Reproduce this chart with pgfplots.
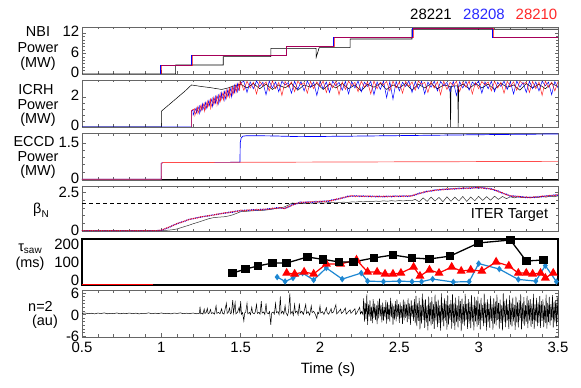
\documentclass[border=0pt]{standalone}
\usepackage{fontspec}
\setmainfont{Liberation Sans}
\usepackage{pgfplots}
\pgfplotsset{compat=1.18}
\usepackage{pgfplotstable}
\definecolor{tblue}{RGB}{30,135,210}
\definecolor{sred}{RGB}{255,0,0}
\definecolor{sblue}{RGB}{0,0,255}
\definecolor{lred}{RGB}{255,40,40}
\definecolor{lblue}{RGB}{40,40,255}
\newcommand\fs{\fontsize{14.5}{16}\selectfont}
\newcommand\fst{\fontsize{15}{16}\selectfont}
\pgfplotsset{
  panel/.style={
    scale only axis, width=476bp, xmin=0.5, xmax=3.5, anchor=south west,
    xtick={0.5,1,1.5,2,2.5,3,3.5}, minor x tick num=4, xticklabels={},
    tick align=inside, tick pos=both,
    major tick length=3.5bp, minor tick length=2.5bp,
    axis line style={draw=black!60, line width=0.7bp},
    every tick/.style={draw=black!60, line width=0.5bp},
    tick label style={font=\fst},
    yticklabel style={inner xsep=2.5bp, inner ysep=0bp},
  }
}

\pgfplotstableread{
t r b
1.50 3.02 2.95
1.52 2.45 3.04
1.54 3.05 2.30
1.56 2.60 3.00
1.58 2.98 2.55
1.60 2.20 3.06
1.62 3.04 2.70
1.64 2.75 2.98
1.66 3.00 2.15
1.68 2.40 3.05
1.70 3.06 2.60
1.72 2.55 3.00
1.74 2.97 2.35
1.76 2.10 3.04
1.78 3.03 2.80
1.80 2.65 2.96
1.82 3.00 2.25
1.84 2.35 3.05
1.86 3.05 2.50
1.88 2.80 3.02
1.90 2.96 2.40
1.92 2.25 3.06
1.94 3.04 2.65
1.96 2.55 2.99
1.98 3.01 2.10
2.00 2.70 3.03
2.02 3.06 2.55
2.04 2.30 3.00
2.06 2.98 2.30
2.08 2.60 3.05
2.10 3.03 2.75
2.12 2.15 2.97
2.14 3.00 2.45
2.16 2.50 3.04
2.18 3.05 2.20
2.20 2.75 3.01
2.22 2.97 2.60
2.24 2.35 3.06
2.26 3.04 2.35
2.28 2.65 2.98
2.30 3.00 2.70
2.32 2.20 3.03
2.34 3.06 2.15
2.36 2.55 3.00
2.38 2.98 2.50
2.40 2.80 3.05
2.42 3.02 1.95
2.44 2.40 3.02
2.46 3.05 1.85
2.48 2.60 3.04
2.50 2.99 2.40
2.52 2.25 2.98
2.54 3.04 2.70
2.56 2.70 3.06
2.58 3.00 2.30
2.60 2.45 3.01
2.62 3.06 2.55
2.64 2.85 3.04
2.66 2.97 2.20
2.68 2.30 2.99
2.70 3.03 2.65
2.72 2.60 3.05
2.74 3.01 2.40
2.76 2.15 3.02
2.78 3.05 2.75
2.80 2.50 2.97
2.82 2.98 2.35
2.84 2.75 3.05
2.86 3.04 2.10
2.88 2.35 3.01
2.90 3.00 2.60
2.92 2.65 3.04
2.94 3.06 2.45
2.96 2.20 2.99
2.98 2.97 2.80
3.00 2.55 3.06
3.02 3.03 2.25
3.04 2.80 3.00
3.06 3.00 2.55
3.08 2.40 3.04
3.10 3.05 2.35
3.12 2.60 2.98
3.14 2.98 2.70
3.16 2.25 3.05
3.18 3.04 2.50
3.20 2.70 3.01
3.22 3.01 2.20
3.24 2.45 3.06
3.26 3.06 2.65
3.28 2.85 2.97
3.30 2.99 2.30
3.32 2.30 3.04
3.34 3.03 2.55
3.36 2.55 3.00
3.38 3.00 2.40
3.40 2.10 3.05
3.42 3.05 2.75
3.44 2.65 2.99
3.46 2.98 2.15
3.48 2.40 3.03
3.50 3.02 2.60
}\icrh

\pgfplotstableread{
t r b k
0.500 0.03 0.03 0.03
0.975 0.03 0.03 0.03
1.000 0.06 0.05 0.03
1.025 0.16 0.14 0.04
1.050 0.27 0.24 0.06
1.075 0.36 0.38 0.09
1.100 0.50 0.47 0.14
1.125 0.55 0.58 0.22
1.150 0.67 0.64 0.30
1.175 0.74 0.77 0.38
1.200 0.82 0.79 0.47
1.225 0.84 0.87 0.55
1.250 0.93 0.90 0.63
1.275 0.94 0.97 0.72
1.300 1.01 0.98 0.80
1.325 1.02 1.05 0.86
1.350 1.10 1.07 0.89
1.375 1.11 1.14 0.91
1.400 1.19 1.15 0.93
1.425 1.18 1.22 0.98
1.450 1.27 1.22 1.05
1.475 1.26 1.31 1.15
1.500 1.35 1.30 1.25
1.525 1.31 1.36 1.27
1.550 1.38 1.33 1.29
1.575 1.34 1.39 1.31
1.600 1.40 1.35 1.33
1.625 1.36 1.41 1.34
1.650 1.43 1.38 1.35
1.675 1.40 1.45 1.38
1.700 1.48 1.43 1.42
1.725 1.46 1.51 1.47
1.750 1.53 1.48 1.51
1.775 1.44 1.47 1.56
1.800 1.58 1.54 1.68
1.825 1.66 1.71 1.82
1.850 1.80 1.75 1.79
1.875 1.83 1.88 1.78
1.900 1.89 1.84 1.79
1.925 1.85 1.90 1.81
1.950 1.91 1.86 1.80
1.975 1.87 1.92 1.82
2.000 1.94 1.89 1.83
2.025 1.90 1.95 1.81
2.050 1.97 1.92 1.84
2.075 1.96 2.02 1.85
2.100 2.08 2.03 1.83
2.125 2.08 2.13 1.86
2.150 2.20 2.15 1.87
2.175 2.21 2.26 1.85
2.200 2.30 2.25 1.89
2.225 2.24 2.29 1.88
2.250 2.29 2.24 1.91
2.275 2.23 2.28 1.89
2.300 2.28 2.23 1.93
2.325 2.22 2.27 1.90
2.350 2.27 2.22 1.94
2.375 2.21 2.26 1.92
2.400 2.26 2.21 1.96
2.425 2.22 2.27 1.93
2.450 2.27 2.22 1.97
2.475 2.23 2.28 1.94
2.500 2.28 2.23 1.98
2.525 2.24 2.29 1.95
2.550 2.29 2.24 1.99
2.575 2.25 2.30 1.96
2.600 2.38 2.33 2.05
2.625 2.41 2.46 1.90
2.650 2.53 2.48 2.15
2.675 2.54 2.59 1.92
2.700 2.63 2.58 2.20
2.725 2.62 2.67 1.95
2.750 2.70 2.65 2.18
2.775 2.67 2.72 1.90
2.800 2.74 2.69 2.22
2.825 2.70 2.75 1.93
2.850 2.77 2.72 2.20
2.875 2.73 2.78 1.95
2.900 2.79 2.74 2.24
2.925 2.75 2.80 1.92
2.950 2.81 2.76 2.21
2.975 2.78 2.83 1.96
3.000 2.84 2.79 2.25
3.025 2.77 2.82 1.98
3.050 2.79 2.74 2.23
3.075 2.71 2.76 2.00
3.100 2.69 2.64 2.26
3.125 2.54 2.59 2.05
3.150 2.49 2.44 2.24
3.175 2.34 2.39 2.10
3.200 2.30 2.25 2.22
3.225 2.23 2.28 2.15
3.250 2.26 2.21 2.22
3.275 2.18 2.23 2.17
3.300 2.21 2.16 2.20
3.325 2.15 2.20 2.16
3.350 2.22 2.17 2.21
3.375 2.19 2.24 2.18
3.400 2.27 2.22 2.23
3.425 2.24 2.29 2.20
3.450 2.32 2.27 2.26
3.475 2.29 2.34 2.22
3.500 2.37 2.32 2.28
}\betan

\begin{document}
\begin{tikzpicture}
\useasboundingbox (0,0) rectangle (581bp,388bp);

% ---------------- NBI ----------------
\begin{axis}[panel, at={(82bp,314bp)}, height=47bp, ymin=0, ymax=13.74,
  ytick={0,6,12}, yticklabels={0,6,12}, minor y tick num=5,
  yticklabel style={yshift=1.5bp}]
\addplot[black, line width=0.6bp] coordinates {(0.5,0)(1.09,0)(1.09,2.63)(1.39,2.63)(1.39,5.06)(1.69,5.06)(1.69,7.51)(1.975,7.51)(1.976,4.9)(1.995,7.69)(2.19,7.69)(2.19,10.23)(2.58,10.23)(2.58,13.07)(3.5,13.07)};
\addplot[sblue, line width=0.7bp] coordinates {(0.5,0)(0.995,0)(0.995,2.43)(1.188,2.43)(1.188,5.35)(1.785,5.35)(1.785,7.98)(2.085,7.98)(2.085,10.73)(2.585,10.73)(2.585,13.36)(3.085,13.36)(3.085,10.73)(3.5,10.73)};
\addplot[sred, line width=0.7bp, opacity=0.65] coordinates {(0.5,0)(1.0,0)(1.0,2.43)(1.195,2.43)(1.195,5.35)(1.79,5.35)(1.79,7.98)(2.09,7.98)(2.09,10.73)(2.59,10.73)(2.59,13.36)(3.09,13.36)(3.09,10.73)(3.5,10.73)};
\end{axis}

% ---------------- ICRH ----------------
\begin{axis}[panel, at={(82bp,261bp)}, height=47bp, ymin=0, ymax=3.13,
  ytick={0,2}, yticklabels={0,2}, minor y tick num=4,
  yticklabel style={yshift=1.5bp}]
\addplot[black, line width=0.5bp] coordinates {(0.5,0)(1.0,0)(1.0,1.05)(1.05,1.5)(1.10,1.95)(1.15,2.4)(1.19,2.8)(1.25,2.7)(1.31,2.62)(1.38,2.5)(1.42,2.6)(1.46,2.75)(1.50,2.85)(1.54,2.6)(1.58,2.9)(1.62,2.55)(1.66,2.85)(1.70,2.5)(1.74,2.8)(1.78,2.6)(1.82,2.9)(1.86,2.45)(1.90,2.8)(1.94,2.65)(1.98,2.9)(2.02,2.5)(2.06,2.85)(2.10,2.6)(2.14,2.9)(2.18,2.55)(2.22,2.8)(2.26,2.4)(2.30,2.85)(2.34,2.65)(2.38,2.9)(2.42,2.5)(2.46,2.8)(2.50,2.6)(2.54,2.9)(2.58,2.45)(2.62,2.85)(2.66,2.6)(2.70,2.9)(2.74,2.55)(2.78,2.8)(2.82,2.7)(2.823,0)(2.826,2.7)(2.868,2.75)(2.871,0)(2.874,2.7)(2.90,2.85)(2.94,2.55)(2.98,2.9)(3.02,2.6)(3.06,2.85)(3.10,2.5)(3.14,2.9)(3.18,2.65)(3.22,2.8)(3.26,2.45)(3.30,2.9)(3.34,2.6)(3.38,2.85)(3.42,2.55)(3.46,2.9)(3.50,2.7)};
\addplot[sblue, line width=0.5bp] coordinates {(0.5,0)(1.19,0)(1.19,1.05)(1.20,1.15)(1.201,0.8)(1.22,1.28)(1.221,0.95)(1.24,1.4)(1.241,0.9)(1.26,1.53)(1.261,1.15)(1.28,1.65)(1.281,1.2)(1.30,1.77)(1.301,1.4)(1.32,1.9)(1.321,1.35)(1.34,2.02)(1.341,1.6)(1.36,2.14)(1.361,1.55)(1.38,2.27)(1.381,1.85)(1.40,2.39)(1.401,1.8)(1.42,2.51)(1.421,2.05)(1.44,2.63)(1.441,2.0)(1.46,2.76)(1.461,2.3)(1.48,2.88)(1.481,2.35)(1.50,2.95)};
\addplot[sblue, line width=0.5bp] table[x=t, y=b] {\icrh};
\addplot[sred, line width=0.5bp, opacity=0.85] coordinates {(1.19,0)(1.19,1.1)(1.21,1.22)(1.211,0.75)(1.23,1.35)(1.231,0.9)(1.25,1.47)(1.251,1.1)(1.27,1.59)(1.271,1.05)(1.29,1.71)(1.291,1.3)(1.31,1.84)(1.311,1.25)(1.33,1.96)(1.331,1.5)(1.35,2.08)(1.351,1.45)(1.37,2.2)(1.371,1.7)(1.39,2.33)(1.391,1.8)(1.41,2.45)(1.411,1.9)(1.43,2.57)(1.431,2.0)(1.45,2.69)(1.451,2.15)(1.47,2.82)(1.471,2.3)(1.49,2.94)(1.491,2.4)(1.50,3.02)};
\addplot[sred, line width=0.5bp, opacity=0.85] table[x=t, y=r] {\icrh};
\end{axis}

% ---------------- ECCD ----------------
\begin{axis}[panel, at={(82bp,208bp)}, height=46.5bp, ymin=-0.03, ymax=1.89,
  ytick={0,1.5}, yticklabels={0,1.5}, minor y tick num=4,
  yticklabel style={yshift=1bp}]
\addplot[black, line width=0.5bp] coordinates {(0.5,0)(3.5,0)};
\addplot[sblue, line width=0.7bp] coordinates {(0.5,0)(1.0,0)(1.0,0.66)(1.01,0.69)(1.496,0.70)(1.497,1.50)(1.503,1.70)(1.515,1.78)(1.54,1.80)(1.7,1.79)(1.87,1.76)(2.2,1.78)(2.6,1.81)(3.0,1.84)(3.3,1.86)(3.5,1.87)};
\addplot[sred!70, line width=0.7bp] coordinates {(0.5,0.0)(1.0,0.0)(1.0,0.66)(1.01,0.69)(1.5,0.70)(2.0,0.71)(2.5,0.72)(3.0,0.73)(3.5,0.74)};
\end{axis}

% ---------------- beta_N ----------------
\begin{axis}[panel, at={(82bp,156.5bp)}, height=45.5bp, ymin=-0.03, ymax=2.92,
  ytick={0,2.5}, yticklabels={0,2.5}, minor y tick num=4,
  yticklabel style={yshift=0.5bp}]
\addplot[black, line width=0.8bp, dash pattern=on 4bp off 3bp] coordinates {(0.5,1.8)(3.5,1.8)};
\addplot[black!80, line width=0.5bp] table[x=t, y=k] {\betan};
\addplot[sblue, line width=1.1bp, dash pattern=on 1bp off 0.8bp] table[x=t, y=b] {\betan};
\addplot[sred, line width=1.1bp, dash pattern=on 1bp off 0.8bp, opacity=0.85] table[x=t, y=r] {\betan};
\end{axis}

% ---------------- tau_saw ----------------
\begin{axis}[panel, at={(82bp,103bp)}, height=46bp, ymin=-16.4, ymax=235.6,
  ytick={0,100,200}, yticklabels={0,100,200}, major tick length=0pt, minor x tick num=0,
  axis line style={draw=black, line width=1.1bp},
  yticklabel style={yshift=1.5bp}]
\addplot[sred, line width=0.8bp] coordinates {(0.5,-12.5)(0.95,-12.5)};
\addplot[tblue, line width=1.2bp, mark=diamond*, mark size=2.3bp] coordinates {(1.73,27)(1.78,3)(1.83,22)(1.89,49)(1.96,11)(2.04,77)(2.14,16)(2.26,49)(2.30,5)(2.40,2)(2.50,5)(2.58,2)(2.64,2)(2.71,16)(2.84,0)(2.94,2)(3.00,101)(3.13,71)(3.25,14)(3.36,5)(3.42,90)(3.49,2)};
\addplot[sred, line width=1.2bp, mark=triangle*, mark size=4bp] coordinates {(1.79,49)(1.84,44)(1.90,55)(1.96,44)(2.04,99)(2.13,99)(2.23,121)(2.30,55)(2.36,55)(2.41,44)(2.46,44)(2.51,49)(2.59,82)(2.63,33)(2.69,66)(2.75,49)(2.83,82)(2.89,60)(2.95,66)(3.02,60)(3.11,110)(3.19,88)(3.25,49)(3.30,49)(3.34,44)(3.39,49)(3.42,22)(3.47,49)};
\addplot[black, line width=1.3bp, mark=square*, mark size=3.6bp] coordinates {(1.45,49)(1.53,71)(1.61,88)(1.70,104)(1.79,104)(1.92,137)(2.02,124)(2.12,110)(2.21,110)(2.34,132)(2.46,148)(2.58,132)(2.69,126)(2.82,142)(3.00,214)(3.20,230)(3.30,115)(3.41,121)};
\end{axis}

% ---------------- n=2 ----------------
\begin{axis}[panel, at={(82bp,51bp)}, height=46.5bp, ymin=-6.25, ymax=6.67,
  ytick={-6,0,6}, yticklabels={-6,0,6}, minor y tick num=5,
  yticklabel style={yshift=-0.5bp},
  xticklabels={0.5,1,1.5,2,2.5,3,3.5}, xticklabel style={inner ysep=1bp, yshift=-4bp}]
\addplot[black, line width=0.5bp] coordinates {
(0.50,0.30)(0.52,0.42)(0.54,0.22)(0.56,0.35)(0.58,0.18)(0.60,0.40)(0.62,0.28)(0.64,0.45)(0.66,0.20)(0.68,0.33)(0.70,0.25)(0.72,0.44)(0.74,0.19)(0.76,0.36)(0.78,0.27)(0.80,0.41)(0.82,0.23)(0.84,0.38)(0.86,0.17)(0.88,0.34)(0.90,0.29)(0.92,0.46)(0.94,0.21)(0.96,0.37)(0.98,0.26)(1.00,0.43)(1.02,0.24)(1.04,0.35)(1.06,0.18)(1.08,0.40)(1.10,0.30)(1.12,0.45)(1.14,0.22)(1.16,0.36)(1.18,0.27)(1.20,0.42)(1.22,0.20)(1.24,0.33)
(1.244,2.2)(1.248,0.2)(1.255,0.4)(1.262,0.1)(1.270,1.5)(1.275,0.3)(1.282,0.5)(1.290,1.7)(1.295,0.2)(1.302,0.4)(1.310,1.4)(1.315,0.3)(1.325,0.5)(1.335,0.1)(1.345,2.4)(1.350,0.3)(1.360,0.6)(1.370,0.2)(1.380,1.6)(1.385,0.4)(1.395,0.1)(1.410,3.1)(1.415,0.3)(1.422,0.6)(1.430,1.8)(1.435,0.2)(1.442,0.5)(1.450,4.0)(1.455,0.4)(1.465,3.3)(1.470,0.2)(1.480,0.6)(1.490,2.0)(1.495,0.3)(1.500,3.7)(1.505,0.1)(1.512,0.5)(1.520,-1.8)(1.525,0.4)(1.532,0.7)(1.540,3.1)(1.545,0.2)(1.555,0.6)(1.562,0.0)(1.570,2.0)(1.575,0.5)(1.585,0.2)(1.592,0.7)(1.600,2.8)(1.605,0.3)(1.615,0.6)(1.622,0.1)(1.630,3.7)(1.635,0.4)(1.645,0.7)(1.652,0.0)(1.660,3.1)(1.665,0.5)(1.675,0.2)(1.682,0.8)(1.690,-2.9)(1.695,0.4)(1.705,0.7)(1.712,0.1)(1.720,3.1)(1.725,0.5)(1.735,0.8)(1.742,0.0)(1.750,5.0)(1.755,0.3)(1.765,0.9)(1.772,0.1)(1.780,2.5)(1.785,0.6)(1.795,-0.3)(1.802,0.8)(1.810,5.9)(1.815,0.2)(1.825,0.9)(1.832,-0.2)(1.840,2.8)(1.845,0.5)(1.855,1.0)(1.862,-0.1)(1.870,3.1)(1.875,0.4)(1.885,0.9)(1.895,0.0)(1.910,2.8)(1.915,0.3)(1.925,0.8)(1.935,-0.2)(1.945,2.4)(1.950,0.5)(1.960,0.9)(1.970,0.1)(1.980,-1.1)(1.985,0.6)(1.992,0.2)(2.000,2.4)(2.005,0.4)(2.015,0.8)(2.025,0.0)(2.040,1.9)(2.045,0.5)(2.055,0.1)(2.070,1.6)(2.075,0.4)(2.085,0.7)(2.100,2.7)(2.105,0.2)(2.115,0.6)(2.130,1.5)(2.135,0.3)(2.145,0.7)(2.160,1.8)(2.165,0.1)(2.175,0.6)(2.190,1.3)(2.195,0.3)(2.205,0.8)(2.220,1.6)(2.225,0.0)(2.235,0.7)(2.250,2.0)(2.255,0.2)(2.262,0.8)(2.270,0.1)
(2.275,4.5)(2.280,-2.0)(2.285,3.2)(2.290,-1.2)(2.295,5.6)(2.300,-2.9)(2.305,2.8)(2.310,-0.6)(2.315,3.9)(2.320,-1.8)(2.325,2.2)(2.330,-2.4)(2.335,4.3)(2.340,-0.9)(2.345,3.0)(2.350,-1.5)(2.355,2.5)(2.360,-2.7)(2.365,3.8)(2.370,-1.1)(2.375,4.4)(2.380,-0.5)(2.385,2.6)(2.390,-2.2)(2.395,3.3)(2.400,-1.7)(2.405,2.1)(2.410,-0.8)(2.415,4.0)(2.420,-2.5)(2.425,3.5)(2.430,-1.3)(2.435,2.7)(2.440,-2.0)(2.445,4.6)(2.450,-0.7)(2.455,3.1)(2.460,-2.8)(2.465,2.4)(2.470,-1.4)(2.475,3.7)(2.480,-1.9)(2.485,4.2)(2.490,-0.6)(2.495,2.9)(2.500,-2.3)(2.505,3.4)(2.510,-1.0)(2.515,2.3)(2.520,-2.6)(2.525,4.1)(2.530,-1.6)(2.535,3.6)(2.540,-0.9)(2.545,2.8)(2.550,-2.1)(2.555,4.5)(2.560,-1.2)(2.565,3.0)(2.570,-2.9)(2.575,3.9)(2.580,-0.7)(2.585,2.6)(2.590,-1.8)(2.595,4.3)(2.600,-2.4)
(2.605,5.2)(2.610,-3.2)(2.615,3.1)(2.620,-1.8)(2.625,4.6)(2.630,-4.1)(2.635,2.7)(2.640,-2.5)(2.645,5.8)(2.650,-1.5)(2.655,3.9)(2.660,-3.7)(2.665,4.2)(2.670,-2.2)(2.675,2.5)(2.680,-4.4)(2.685,5.0)(2.690,-1.9)(2.695,3.4)(2.700,-3.0)(2.705,4.8)(2.710,-2.6)(2.715,2.9)(2.720,-4.0)(2.725,5.5)(2.730,-1.6)(2.735,3.6)(2.740,-3.5)(2.745,4.1)(2.750,-2.3)(2.755,2.6)(2.760,-4.5)(2.765,5.9)(2.770,-2.0)(2.775,3.2)(2.780,-3.3)(2.785,4.5)(2.790,-1.7)(2.795,3.8)(2.800,-4.2)
(2.805,5.3)(2.810,-2.8)(2.815,2.8)(2.820,-1.5)(2.825,4.0)(2.830,-3.9)(2.835,5.6)(2.840,-2.4)(2.845,3.3)(2.850,-4.3)(2.855,4.7)(2.860,-2.1)(2.865,2.5)(2.870,-3.6)(2.875,5.1)(2.880,-1.8)(2.885,3.7)(2.890,-4.6)(2.895,4.4)(2.900,-2.7)(2.905,2.9)(2.910,-3.1)(2.915,5.7)(2.920,-1.6)(2.925,3.0)(2.930,-4.0)(2.935,4.3)(2.940,-2.5)(2.945,3.5)(2.950,-3.8)(2.955,5.4)(2.960,-2.0)(2.965,2.7)(2.970,-4.4)(2.975,4.9)(2.980,-1.9)(2.985,3.9)(2.990,-3.4)(2.995,5.0)(3.000,-2.9)
(3.005,3.1)(3.010,-4.1)(3.015,4.6)(3.020,-1.7)(3.025,2.6)(3.030,-3.2)(3.035,5.8)(3.040,-2.4)(3.045,3.4)(3.050,-4.5)(3.055,4.2)(3.060,-2.1)(3.065,3.0)(3.070,-3.7)(3.075,5.2)(3.080,-1.8)(3.085,2.8)(3.090,-4.2)(3.095,4.5)(3.100,-2.6)(3.105,3.6)(3.110,-3.0)(3.115,5.5)(3.120,-1.5)(3.125,3.2)(3.130,-3.9)(3.135,4.1)(3.140,-2.3)(3.145,2.5)(3.150,-4.4)(3.155,5.9)(3.160,-2.0)(3.165,3.8)(3.170,-3.5)(3.175,4.4)(3.180,-1.7)(3.185,2.9)(3.190,-4.0)(3.195,5.3)(3.200,-2.8)
(3.205,3.3)(3.210,-3.3)(3.215,4.7)(3.220,-1.9)(3.225,2.7)(3.230,-4.3)(3.235,5.0)(3.240,-2.2)(3.245,3.5)(3.250,-3.6)(3.255,4.0)(3.260,-1.6)(3.265,5.6)(3.270,-4.1)(3.275,3.1)(3.280,-2.5)(3.285,4.8)(3.290,-3.1)(3.295,2.6)(3.300,-2.0)(3.305,5.2)(3.310,-3.8)(3.315,3.9)(3.320,-1.7)(3.325,4.3)(3.330,-3.4)(3.335,3.0)(3.340,-2.6)(3.345,5.7)(3.350,-4.0)(3.355,2.8)(3.360,-1.9)(3.365,4.6)(3.370,-3.2)(3.375,3.4)(3.380,-2.3)(3.385,5.1)(3.390,-3.7)(3.395,3.7)(3.400,-1.8)
(3.405,4.2)(3.410,-3.5)(3.415,2.5)(3.420,-2.4)(3.425,5.5)(3.430,-3.9)(3.435,3.2)(3.440,-2.1)(3.445,4.9)(3.450,-3.0)(3.455,2.9)(3.460,-1.6)(3.465,5.4)(3.470,-3.6)(3.475,3.6)(3.480,-2.2)(3.485,4.0)(3.490,-3.3)(3.495,5.0)(3.500,-2.0)
};
\end{axis}

% ---------------- labels ----------------
\node[anchor=base, font=\fs] at (38bp,351bp) {NBI};
\node[anchor=base, font=\fs] at (38bp,335bp) {Power};
\node[anchor=base, font=\fs] at (38bp,320.5bp) {(MW)};
\node[anchor=base, font=\fs] at (36bp,293bp) {ICRH};
\node[anchor=base, font=\fs] at (38bp,278bp) {Power};
\node[anchor=base, font=\fs] at (38bp,264.5bp) {(MW)};
\node[anchor=base, font=\fs] at (34bp,241bp) {ECCD};
\node[anchor=base, font=\fs] at (38bp,226bp) {Power};
\node[anchor=base, font=\fs] at (38bp,212bp) {(MW)};
\node[anchor=base, font=\fs] at (41bp,174bp) {β\raisebox{-3.5bp}{\fontsize{10}{10}\selectfont N}};
\node[anchor=base, font=\fs] at (30bp,136bp) {τ\raisebox{-2bp}{\fontsize{10}{10}\selectfont saw}};
\node[anchor=base, font=\fs] at (30bp,120.5bp) {(ms)};
\node[anchor=base, font=\fs] at (40.5bp,76bp) {n=2};
\node[anchor=base, font=\fs] at (45bp,62.5bp) {(au)};
\node[anchor=base, font=\fs] at (509.5bp,169bp) {ITER Target};
\node[anchor=base, font=\fst] at (328bp,14.5bp) {Time (s)};
\node[anchor=base, font=\fst] at (431bp,368bp) {28221};
\node[anchor=base, font=\fst, text=lblue] at (484bp,368bp) {28208};
\node[anchor=base, font=\fst, text=lred] at (536.5bp,368bp) {28210};
\end{tikzpicture}
\end{document}
